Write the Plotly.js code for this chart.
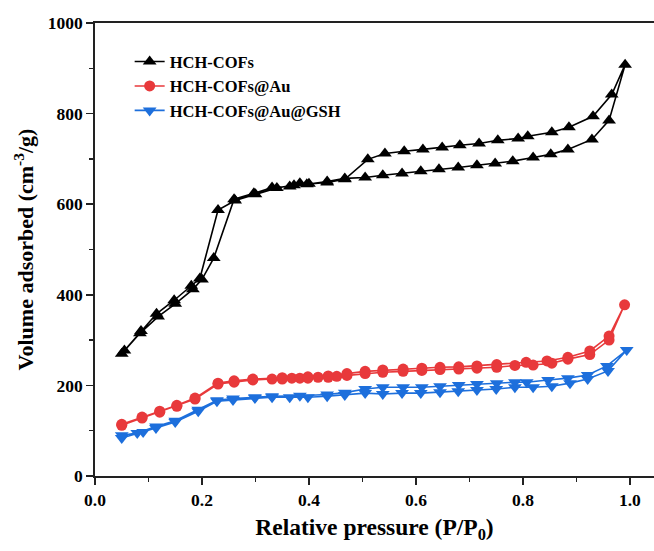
<!DOCTYPE html>
<html>
<head>
<meta charset="utf-8">
<script src="https://cdn.plot.ly/plotly-3.0.1.min.js"></script>
<style>html,body{margin:0;padding:0;background:#fff;overflow:hidden;}#chart{width:654px;height:551px;}</style>
</head>
<body>
<div id="chart"></div>
<script>
// HCH-COFs (adsorption then desorption)
const cofAdsX = [0.050,0.084,0.118,0.150,0.183,0.200,0.222,0.260,0.297,0.331,0.364,0.383,0.396,0.434,0.467,0.505,0.538,0.574,0.609,0.643,0.679,0.714,0.748,0.781,0.819,0.852,0.884,0.929,0.961,0.991];
const cofAdsY = [270,315,352,380,412,434,481,611,624,637,639,646,644,650,657,659,664,668,673,677,681,686,690,695,703,710,721,743,785,908];
const cofDesX = [0.966,0.931,0.886,0.854,0.809,0.791,0.753,0.718,0.682,0.649,0.613,0.578,0.542,0.510,0.467,0.434,0.400,0.372,0.340,0.300,0.262,0.230,0.196,0.180,0.148,0.115,0.086,0.055];
const cofDesY = [842,794,770,759,750,745,741,734,730,725,721,717,712,699,655,648,645,642,636,622,608,587,436,420,388,358,320,277];

// HCH-COFs@Au
const auAdsX = [0.050,0.088,0.121,0.153,0.187,0.230,0.260,0.295,0.331,0.350,0.368,0.383,0.398,0.417,0.436,0.452,0.471,0.505,0.538,0.576,0.611,0.645,0.680,0.714,0.751,0.785,0.819,0.854,0.884,0.925,0.961,0.990];
const auAdsY = [112,128,141,154,170,203,207,212,214,214,216,216,216,218,218,220,222,226,229,231,233,235,236,238,240,244,245,249,258,268,300,378];
const auDesX = [0.961,0.925,0.884,0.845,0.806,0.751,0.714,0.680,0.645,0.611,0.576,0.538,0.505,0.471,0.436,0.398,0.350,0.295,0.260,0.230,0.187,0.153,0.121,0.088,0.050];
const auDesY = [309,276,262,254,251,246,243,241,240,238,236,234,231,226,221,219,217,214,210,205,172,156,143,130,114];

// HCH-COFs@Au@GSH
const gshAdsX = [0.050,0.090,0.114,0.150,0.193,0.228,0.258,0.299,0.331,0.364,0.398,0.434,0.467,0.505,0.538,0.574,0.609,0.645,0.679,0.714,0.750,0.785,0.819,0.854,0.888,0.921,0.959,0.994];
const gshAdsY = [84,97,106,119,143,165,168,172,174,174,174,176,179,183,181,183,183,185,187,190,192,196,196,198,205,214,232,278];
const gshDesX = [0.957,0.921,0.884,0.847,0.807,0.785,0.751,0.714,0.680,0.645,0.611,0.576,0.538,0.505,0.467,0.434,0.383,0.331,0.299,0.258,0.228,0.193,0.150,0.114,0.079,0.050];
const gshDesY = [243,223,216,212,207,207,205,203,201,198,196,196,196,192,184,180,177,176,174,171,167,146,122,109,95,90];

const seriesNames = ['HCH-COFs','HCH-COFs@Au','HCH-COFs@Au@GSH'];
const xTicks = [0.0,0.2,0.4,0.6,0.8,1.0];
const yTicks = [0,200,400,600,800,1000];

const FONT = 'Liberation Serif, Times New Roman, serif';

function tr(name, xs, ys, color, symbol, size){
  return {x: xs, y: ys, name: name, type:'scatter', mode:'lines+markers',
    line:{color:color, width:1.6},
    marker:{color:color, symbol:symbol, size:size, line:{width:0}}};
}

const data = [
  tr(seriesNames[0], cofAdsX.concat(cofDesX), cofAdsY.concat(cofDesY), '#000000', 'triangle-up', 12),
  tr(seriesNames[1], auAdsX.concat(auDesX), auAdsY.concat(auDesY), '#E8393B', 'circle', 11),
  tr(seriesNames[2], gshAdsX.concat(gshDesX), gshAdsY.concat(gshDesY), '#1D6FDC', 'triangle-down', 12)
];

const layout = {
  width: 654, height: 551,
  margin: {l:95, r:0, t:22.5, b:75},
  paper_bgcolor:'#fff', plot_bgcolor:'#fff',
  showlegend: true,
  legend: {x:0.062, y:0.953, xanchor:'left', yanchor:'top', bgcolor:'rgba(0,0,0,0)',
    font:{family:FONT, size:16.5, color:'#000', weight:'bold'}, tracegroupgap:0},
  xaxis: {range:[0,1.045], tickvals:xTicks, ticktext:xTicks.map(v=>v.toFixed(1)),
    showgrid:false, zeroline:false, showline:true, linecolor:'#222', linewidth:1.8,
    mirror:true, ticks:'outside', ticklen:7, tickwidth:1.5, tickcolor:'#222',
    minor:{ticks:'outside', dtick:0.1, ticklen:4, tickwidth:1.5, tickcolor:'#222', showgrid:false},
    tickfont:{family:FONT, size:17.5, color:'#000', weight:'bold'},
    automargin:true,
    title:{text:'Relative pressure (P/P<sub>0</sub>)', standoff:10, font:{family:FONT, size:23.5, color:'#000', weight:'bold'}}},
  yaxis: {range:[0,1000], tickvals:yTicks, showgrid:false, zeroline:false, showline:true,
    linecolor:'#222', linewidth:1.8, mirror:false, ticks:'outside', ticklen:7, tickwidth:1.5, tickcolor:'#222',
    minor:{ticks:'outside', dtick:100, ticklen:4, tickwidth:1.5, tickcolor:'#222', showgrid:false},
    tickfont:{family:FONT, size:17.5, color:'#000', weight:'bold'},
    automargin:true,
    title:{text:'Volume adsorbed (cm<sup>-3</sup>/g)', standoff:8, font:{family:FONT, size:22, color:'#000', weight:'bold'}}}
};

Plotly.newPlot('chart', data, layout, {displayModeBar:false, staticPlot:true});
</script>
</body>
</html>
